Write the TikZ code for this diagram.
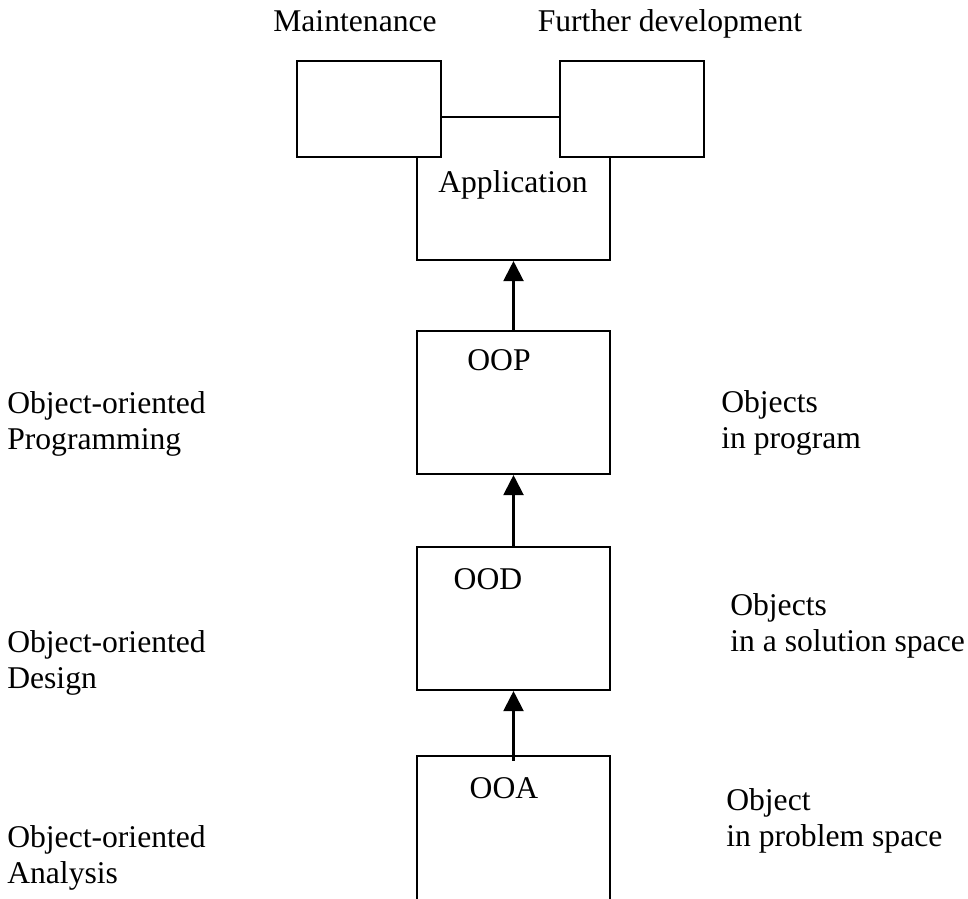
\documentclass[tikz,border=0pt]{standalone}
\usepackage{fontspec}
\setmainfont{Liberation Serif}
\usetikzlibrary{arrows.meta}

\begin{document}
\begin{tikzpicture}[
    box/.style={draw, line width=1.5pt, minimum width=4.825cm, minimum height=3.575cm, inner sep=0pt},
    side/.style={draw, line width=1.5pt, fill=white, minimum width=3.6cm, minimum height=2.4cm, inner sep=0pt},
    txt/.style={font=\fontsize{22.5}{26}\selectfont, inner sep=0pt, anchor=base},
    lbl/.style={txt, anchor=base west, align=left},
    up/.style={-{Triangle[width=0.5cm,length=0.5cm]}, line width=1.5pt}
  ]
      \clip (0, 0) rectangle (24.2, 22.45);
      \node[box] (app) at (12.8375, 17.7375) {};
      \node[side] (maint) at (9.225, 19.725) {};
      \node[side] (further) at (15.8, 19.725) {};
      \node[box] (oop) at (12.8375, 12.3875) {};
      \node[box] (ood) at (12.8375, 6.9875) {};
      \node[box, minimum height=4cm] (ooa) at (12.8375, 1.55) {};
      \draw[up] (oop) to (app);
      \draw[up] (ood) to (oop);
      \draw[up] ([yshift=-0.15cm]ooa.north) to (ood.south);
      \node[txt] (maintlabel) at (8.875, 21.65) {Maintenance};
      \node[txt] (furtherlabel) at (16.75, 21.65) {Further development};
      \node[txt] (applabel) at (12.825, 17.625) {Application};
      \node[txt] (ooplabel) at (12.475, 13.175) {OOP};
      \node[txt] (oodlabel) at (12.2, 7.725) {OOD};
      \node[txt] (ooalabel) at (12.6, 2.5) {OOA};
      \node[lbl] (progleft) at (0.175, 11.2075) {Object-oriented\\Programming};
      \node[lbl] (designleft) at (0.175, 5.2325) {Object-oriented\\Design};
      \node[lbl] (analysisleft) at (0.175, 0.3575) {Object-oriented\\Analysis};
      \node[lbl] (progright) at (18.025, 11.2325) {Objects\\in program};
      \node[lbl] (designright) at (18.25, 6.1575) {Objects\\in a solution space};
      \node[lbl] (analysisright) at (18.15, 1.2825) {Object\\in problem space};
    \end{tikzpicture}
\end{document}
